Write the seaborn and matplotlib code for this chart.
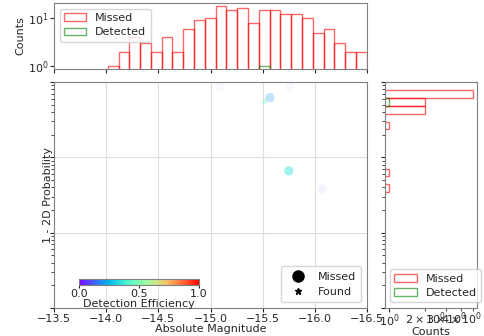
import numpy as np
import pandas as pd
import matplotlib
matplotlib.use("Agg")
import matplotlib.pyplot as plt
import seaborn as sns
from matplotlib.lines import Line2D
from matplotlib.patches import Patch
from matplotlib import colors as mcolors
from matplotlib.cm import ScalarMappable

sns.set_style("ticks")
plt.rcParams['font.family'] = ['DejaVu Sans']
plt.rcParams['font.size'] = 8
plt.rcParams['axes.edgecolor'] = '0.5'

# ---------------- data ----------------
# magnitude histogram (bins from -16.498 to -14.015, ascending)
mag_bin_lo = -16.498
mag_bin_hi = -14.015
mag_n_bins = 24
# counts listed from the -14.0 end to the -16.5 end
missed_mag_counts = [1, 2, 4, 3, 2, 4, 2, 6, 9, 10, 18, 15, 16, 8, 15, 15, 12, 12, 10, 5, 6, 3, 2, 2]
detected_mag_counts = [0, 0, 0, 0, 0, 0, 0, 0, 0, 0, 0, 0, 0, 0, 1, 0, 0, 0, 0, 0, 0, 0, 0, 0]

# probability histogram (log10 bin edges), counts listed from low to high probability
prob_log_lo = -1.460
prob_log_hi = -0.109
prob_n_bins = 13
missed_prob_counts = [1, 0, 1, 0, 0, 0, 0, 0, 1, 0, 2, 2, 5]
detected_prob_counts = [0, 0, 0, 0, 0, 0, 0, 0, 0, 0, 0, 1, 0]

# visible scatter points
point_mag = [-15.57, -15.75, -16.07, -15.09, -15.76, -15.52]
point_prob = [0.62, 0.066, 0.038, 0.86, 0.86, 0.55]
point_eff = [0.20, 0.35, 0.05, 0.10, 0.10, 0.45]
point_kind = ['Missed', 'Missed', 'Missed', 'Missed', 'Missed', 'Found']
point_alpha = [0.25, 0.45, 0.06, 0.04, 0.04, 0.4]

# ---------------- figure ----------------
W, H = 484, 336
fig = plt.figure(figsize=(W / 100, H / 100), dpi=100)

def rect(l, t, r, b):
    return [l / W, (H - b) / H, (r - l) / W, (b - t) / H]

ax = fig.add_axes(rect(54, 82, 367, 308))
ax_top = fig.add_axes(rect(54, 3, 367, 69))
ax_right = fig.add_axes(rect(385, 82, 477, 308))

cmap = plt.get_cmap('rainbow')
norm = mcolors.Normalize(0, 1)

# main scatter
ax.set_yscale('log')
for m, p, e, k, a in zip(point_mag, point_prob, point_eff, point_kind, point_alpha):
    sns.scatterplot(x=[m], y=[p], ax=ax, color=cmap(norm(e)), alpha=a,
                    marker='o' if k == 'Missed' else '*',
                    s=45 if k == 'Missed' else 40, edgecolor='none', legend=False)
ax.set_xlim(-13.5, -16.5)
ax.set_ylim(1e-3, 1)
xt = np.arange(-13.5, -16.51, -0.5)
ax.set_xticks(xt)
ax.set_xticklabels([f"{v:.1f}".replace('-', '\u2212') for v in xt])
ax.yaxis.set_major_formatter(matplotlib.ticker.NullFormatter())
ax.yaxis.set_minor_formatter(matplotlib.ticker.NullFormatter())
ax.grid(True, which='major', color='#dddddd', linewidth=0.8)
ax.set_xlabel('Absolute Magnitude', fontsize=8, labelpad=0)
ax.set_ylabel('1 - 2D Probability', fontsize=8, labelpad=-5)
ax.tick_params(labelsize=8, length=3, pad=1)
ax.tick_params(which='minor', length=2)

leg_handles = [Line2D([], [], marker='o', color='black', linestyle='none', markersize=8, label='Missed'),
               Line2D([], [], marker='*', color='black', linestyle='none', markersize=5, label='Found')]
ax.legend(handles=leg_handles, loc='lower right', fontsize=8, handletextpad=0.8,
          borderpad=0.5, labelspacing=0.45)

# colorbar
cax = ax.inset_axes([0.08, 0.102, 0.383, 0.027])
cb = fig.colorbar(ScalarMappable(norm=norm, cmap=cmap), cax=cax, orientation='horizontal')
cb.set_ticks([0.0, 0.5, 1.0])
cb.ax.tick_params(labelsize=8, length=2, pad=1)
cb.set_label('Detection Efficiency', fontsize=8, labelpad=0)
cb.outline.set_edgecolor('0.5')

# top histogram
mag_edges = np.linspace(mag_bin_lo, mag_bin_hi, mag_n_bins + 1)
mag_df = pd.DataFrame({
    'mag': (mag_edges[:-1] + mag_edges[1:]) / 2,
    'missed': missed_mag_counts[::-1],
    'detected': detected_mag_counts[::-1],
})
sns.histplot(data=mag_df, x='mag', weights='missed', bins=list(mag_edges), ax=ax_top,
             element='bars', fill=False, color='red', alpha=0.6, linewidth=1)
sns.histplot(data=mag_df, x='mag', weights='detected', bins=list(mag_edges), ax=ax_top,
             element='bars', fill=False, color='green', alpha=0.6, linewidth=1)
ax_top.set_yscale('log')
ax_top.set_xlim(-13.5, -16.5)
ax_top.set_ylim(0.87, 20.8)
ax_top.set_xticks(xt)
ax_top.set_xticklabels([])
ax_top.set_xlabel('')
ax_top.set_ylabel('Counts', fontsize=8, labelpad=2)
ax_top.tick_params(labelsize=8, length=3, pad=1)
ax_top.tick_params(which='minor', length=0)
hist_handles = [Patch(facecolor='none', edgecolor='red', alpha=0.6, label='Missed'),
                Patch(facecolor='none', edgecolor='green', alpha=0.6, label='Detected')]
ax_top.legend(handles=hist_handles, loc='upper left', fontsize=8, borderpad=0.4,
              labelspacing=0.4)

# right histogram
prob_edges = 10 ** np.linspace(prob_log_lo, prob_log_hi, prob_n_bins + 1)
prob_df = pd.DataFrame({
    'prob': np.sqrt(prob_edges[:-1] * prob_edges[1:]),
    'missed': missed_prob_counts,
    'detected': detected_prob_counts,
})
sns.histplot(data=prob_df, y='prob', weights='missed', bins=list(prob_edges), ax=ax_right,
             element='bars', fill=False, color='red', alpha=0.6, linewidth=1)
sns.histplot(data=prob_df, y='prob', weights='detected', bins=list(prob_edges), ax=ax_right,
             element='bars', fill=False, color='green', alpha=0.6, linewidth=1)
ax_right.set_yscale('log')
ax_right.set_xscale('log')
ax_right.set_ylim(1e-3, 1)
ax_right.set_xlim(0.923, 5.42)
ax_right.yaxis.set_major_formatter(matplotlib.ticker.NullFormatter())
ax_right.yaxis.set_minor_formatter(matplotlib.ticker.NullFormatter())
ax_right.set_ylabel('')
ax_right.tick_params(axis='x', which='both', labelsize=8, pad=0)
ax_right.tick_params(which='major', length=3)
ax_right.tick_params(which='minor', length=2)
ax_right.set_xlabel('Counts', fontsize=8, labelpad=-1)
ax_right.legend(handles=hist_handles, loc='lower center', fontsize=8, borderpad=0.4,
                labelspacing=0.4, bbox_to_anchor=(0.55, 0.0))

fig.savefig('out.png', dpi=100)
